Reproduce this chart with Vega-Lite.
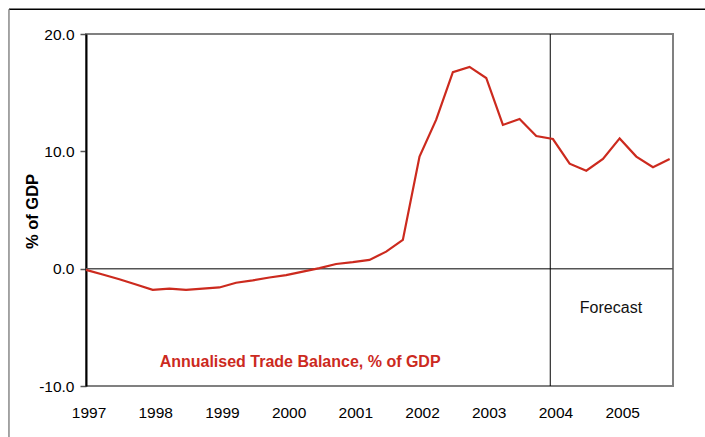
{
  "$schema": "https://vega.github.io/schema/vega-lite/v6.json",
  "width": 587,
  "height": 352,
  "autosize": {"type": "none"},
  "padding": {"left": 86, "top": 34, "right": 32, "bottom": 51},
  "background": "white",
  "config": {
    "font": "Liberation Sans",
    "view": {"stroke": "#808080", "strokeWidth": 2}
  },
  "datasets": {
    "series": [
      {"t": 1997.00, "v": -0.1},
      {"t": 1997.25, "v": -0.5},
      {"t": 1997.50, "v": -0.9},
      {"t": 1997.75, "v": -1.35},
      {"t": 1998.00, "v": -1.8},
      {"t": 1998.25, "v": -1.7},
      {"t": 1998.50, "v": -1.8},
      {"t": 1998.75, "v": -1.7},
      {"t": 1999.00, "v": -1.6},
      {"t": 1999.25, "v": -1.2},
      {"t": 1999.50, "v": -1.0},
      {"t": 1999.75, "v": -0.75},
      {"t": 2000.00, "v": -0.55},
      {"t": 2000.25, "v": -0.25},
      {"t": 2000.50, "v": 0.05},
      {"t": 2000.75, "v": 0.4},
      {"t": 2001.00, "v": 0.55},
      {"t": 2001.25, "v": 0.75},
      {"t": 2001.50, "v": 1.45},
      {"t": 2001.75, "v": 2.45},
      {"t": 2002.00, "v": 9.55},
      {"t": 2002.25, "v": 12.7},
      {"t": 2002.50, "v": 16.75},
      {"t": 2002.75, "v": 17.2},
      {"t": 2003.00, "v": 16.25},
      {"t": 2003.25, "v": 12.25},
      {"t": 2003.50, "v": 12.75},
      {"t": 2003.75, "v": 11.3},
      {"t": 2004.00, "v": 11.05},
      {"t": 2004.25, "v": 8.95},
      {"t": 2004.50, "v": 8.35},
      {"t": 2004.75, "v": 9.35},
      {"t": 2005.00, "v": 11.1},
      {"t": 2005.25, "v": 9.55},
      {"t": 2005.50, "v": 8.65},
      {"t": 2005.75, "v": 9.35}
    ],
    "seriesNote": [
      {"x": 2000.21, "y": -7.95, "label": "Annualised Trade Balance, % of GDP"}
    ],
    "forecastNote": [
      {"x": 2004.87, "y": -3.35, "label": "Forecast"}
    ],
    "one": [{"k": 1}]
  },
  "layer": [
    {
      "data": {"name": "one"},
      "mark": {"type": "rule", "color": "#555", "strokeWidth": 1.5},
      "encoding": {"y": {"datum": 0, "type": "quantitative"}}
    },
    {
      "data": {"name": "one"},
      "mark": {"type": "rule", "color": "#000", "strokeWidth": 1},
      "encoding": {"x": {"datum": 2003.96, "type": "quantitative"}}
    },
    {
      "data": {"name": "series"},
      "mark": {"type": "line", "color": "#cc2a1e", "strokeWidth": 2.2},
      "encoding": {
        "x": {
          "field": "t",
          "type": "quantitative",
          "scale": {"domain": [1997, 2005.8], "nice": false, "zero": false},
          "axis": {
            "title": null,
            "values": [1997, 1998, 1999, 2000, 2001, 2002, 2003, 2004, 2005],
            "format": "d",
            "grid": false,
            "ticks": false,
            "domain": false,
            "labelFlush": false,
            "labelFontSize": 15.5,
            "labelColor": "#000",
            "labelPadding": 19,
            "labelOffset": 2.5
          }
        },
        "y": {
          "field": "v",
          "type": "quantitative",
          "scale": {"domain": [-10, 20], "nice": false},
          "axis": {
            "title": "% of GDP",
            "values": [-10, 0, 10, 20],
            "labelExpr": "datum.value < 0 ? '-' + format(-datum.value, '.1f') : format(datum.value, '.1f')",
            "grid": false,
            "domainColor": "#000",
            "domainWidth": 2,
            "tickColor": "#555",
            "tickSize": 6,
            "tickWidth": 1.5,
            "labelFontSize": 15.5,
            "labelColor": "#000",
            "labelPadding": 6,
            "titleFontSize": 16.5,
            "titleFontWeight": "bold",
            "titleColor": "#000",
            "titleX": -46,
            "titleY": 177,
            "titleAngle": -90,
            "titleAlign": "center",
            "titleBaseline": "bottom"
          }
        }
      }
    },
    {
      "data": {"name": "seriesNote"},
      "mark": {"type": "text", "fontSize": 16, "fontWeight": "bold", "color": "#cc2a1e", "align": "center", "baseline": "middle"},
      "encoding": {
        "x": {"field": "x", "type": "quantitative"},
        "y": {"field": "y", "type": "quantitative"},
        "text": {"field": "label"}
      }
    },
    {
      "data": {"name": "forecastNote"},
      "mark": {"type": "text", "fontSize": 16, "color": "#111", "align": "center", "baseline": "middle"},
      "encoding": {
        "x": {"field": "x", "type": "quantitative"},
        "y": {"field": "y", "type": "quantitative"},
        "text": {"field": "label"}
      }
    },
    {
      "data": {"name": "one"},
      "mark": {"type": "rule", "color": "#000", "strokeWidth": 1.5, "clip": false},
      "encoding": {
        "x": {"datum": 1995.845, "type": "quantitative"},
        "x2": {"datum": 2006.5},
        "y": {"datum": 22.1, "type": "quantitative"}
      }
    },
    {
      "data": {"name": "one"},
      "mark": {"type": "rule", "color": "#888", "strokeWidth": 1.5, "clip": false},
      "encoding": {
        "x": {"datum": 1995.845, "type": "quantitative"},
        "y": {"datum": 22.1, "type": "quantitative"},
        "y2": {"datum": -15}
      }
    }
  ]
}
